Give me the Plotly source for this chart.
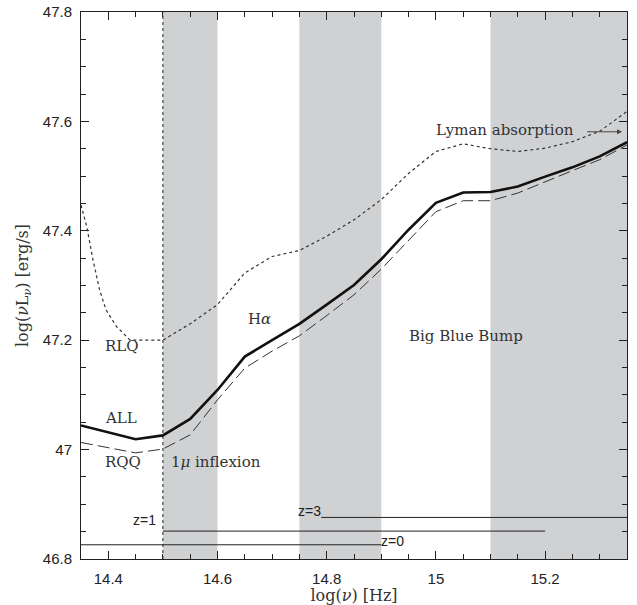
import plotly.graph_objects as go

# ---- data ----
freq = [14.35, 14.45, 14.5, 14.55, 14.6, 14.65, 14.7, 14.75, 14.8, 14.85, 14.9,
        14.95, 15.0, 15.05, 15.1, 15.15, 15.2, 15.25, 15.3, 15.35]
all_lum = [47.044, 47.019, 47.026, 47.056, 47.109, 47.170, 47.200, 47.230, 47.265,
           47.301, 47.348, 47.402, 47.451, 47.470, 47.471, 47.481, 47.499, 47.516,
           47.536, 47.562]
rqq_lum = [47.013, 46.994, 47.001, 47.027, 47.091, 47.149, 47.180, 47.208, 47.245,
           47.283, 47.330, 47.383, 47.435, 47.455, 47.455, 47.469, 47.490, 47.510,
           47.530, 47.557]
rlq_freq = [14.35, 14.36, 14.372, 14.384, 14.396, 14.415, 14.44, 14.5, 14.55, 14.6,
            14.65, 14.7, 14.75, 14.8, 14.85, 14.9, 14.95, 15.0, 15.05, 15.1, 15.15,
            15.2, 15.25, 15.3, 15.35]
rlq_lum = [47.447, 47.41, 47.347, 47.292, 47.255, 47.225, 47.200, 47.200, 47.230,
           47.265, 47.323, 47.353, 47.364, 47.390, 47.420, 47.457, 47.505, 47.545,
           47.559, 47.550, 47.545, 47.551, 47.563, 47.582, 47.618]

band_start = [14.5, 14.75, 15.1]
band_end = [14.6, 14.9, 15.35]

z_labels = ["z=0", "z=1", "z=3"]
z_lum = [46.826, 46.851, 46.876]
z_from = [14.35, 14.5, 14.79]
z_to = [14.9, 15.2, 15.35]

inflexion_freq = 14.5

x_ticks = [14.4, 14.6, 14.8, 15.0, 15.2]
x_ticktext = ["14.4", "14.6", "14.8", "15", "15.2"]
y_ticks = [46.8, 47.0, 47.2, 47.4, 47.6, 47.8]
y_ticktext = ["46.8", "47", "47.2", "47.4", "47.6", "47.8"]

X_RANGE = [14.35, 15.35]
Y_RANGE = [46.8, 47.8]

fig = go.Figure()

# shaded bands
for a, b in zip(band_start, band_end):
    fig.add_vrect(x0=a, x1=b, fillcolor="#d0d1d3", opacity=1, line_width=0, layer="below")

# vertical dotted line
fig.add_trace(go.Scatter(x=[inflexion_freq, inflexion_freq], y=Y_RANGE, mode="lines",
                         line=dict(color="#222", width=1, dash="dot"),
                         showlegend=False, hoverinfo="skip"))

# redshift lines
for lab, yv, a, b in zip(z_labels, z_lum, z_from, z_to):
    fig.add_trace(go.Scatter(x=[a, b], y=[yv, yv], mode="lines",
                             line=dict(color="#222", width=1), name=lab,
                             showlegend=False))

fig.add_trace(go.Scatter(x=rlq_freq, y=rlq_lum, mode="lines", name="RLQ",
                         line=dict(color="#333", width=1.2, dash="dot"), showlegend=False))
fig.add_trace(go.Scatter(x=freq, y=rqq_lum, mode="lines", name="RQQ",
                         line=dict(color="#333", width=1, dash="12px,5px"), showlegend=False))
fig.add_trace(go.Scatter(x=freq, y=all_lum, mode="lines", name="ALL",
                         line=dict(color="#111", width=2.6), showlegend=False))

serif = dict(family="DejaVu Serif", size=15, color="#333")
sans = dict(family="Liberation Sans", size=14, color="#222")

def txt(x, y, t, font):
    fig.add_annotation(x=x, y=y, text=t, showarrow=False, font=font,
                       xanchor="center", yanchor="middle")

txt(15.127, 47.585, "Lyman absorption", serif)
txt(14.677, 47.239, "H<i>α</i>", serif)
txt(15.055, 47.208, "Big Blue Bump", serif)
txt(14.425, 47.19, "RLQ", serif)
txt(14.424, 47.058, "ALL", serif)
txt(14.426, 46.977, "RQQ", serif)
txt(14.598, 46.977, "1<i>μ</i> inflexion", serif)
txt(14.467, 46.871, "z=1", sans)
txt(14.768, 46.888, "z=3", sans)
txt(14.921, 46.833, "z=0", sans)

# Lyman arrow
fig.add_annotation(x=15.341, y=47.581, ax=15.274, ay=47.581, axref="x", ayref="y",
                   xref="x", yref="y", text="", showarrow=True, arrowhead=2,
                   arrowsize=1, arrowwidth=1, arrowcolor="#444")

axis_common = dict(showgrid=False, zeroline=False, showline=True, linecolor="#222",
                   linewidth=1, mirror="ticks", ticks="inside", ticklen=8,
                   tickcolor="#222", tickwidth=1, automargin=False,
                   ticklabeloverflow="allow",
                   tickfont=dict(family="Liberation Sans", size=15, color="#222"))

fig.update_xaxes(range=X_RANGE, tickvals=x_ticks, ticktext=x_ticktext,
                 minor=dict(dtick=0.05, ticks="inside", ticklen=5, tickcolor="#222"),
                 title=dict(text="log(<i>ν</i>) [Hz]", font=dict(family="DejaVu Serif", size=16, color="#333"),
                            standoff=4),
                 ticklabelstandoff=6, **axis_common)
fig.update_yaxes(range=Y_RANGE, tickvals=y_ticks, ticktext=y_ticktext,
                 minor=dict(dtick=0.05, ticks="inside", ticklen=5, tickcolor="#222"),
                 title=dict(text="log(<i>ν</i>L<sub><i>ν</i></sub>) [erg/s]",
                            font=dict(family="DejaVu Serif", size=16, color="#333"), standoff=10),
                 ticklabelstandoff=5, **axis_common)

fig.update_layout(width=637, height=605, plot_bgcolor="white", paper_bgcolor="white",
                  margin=dict(l=81, r=10, t=12, b=46), showlegend=False)

# remove the page's default body margin so the figure fills the window exactly
fig.write_html("out.html", config={"displayModeBar": False},
               post_script="document.body.style.margin='0';document.body.style.overflow='hidden';")
